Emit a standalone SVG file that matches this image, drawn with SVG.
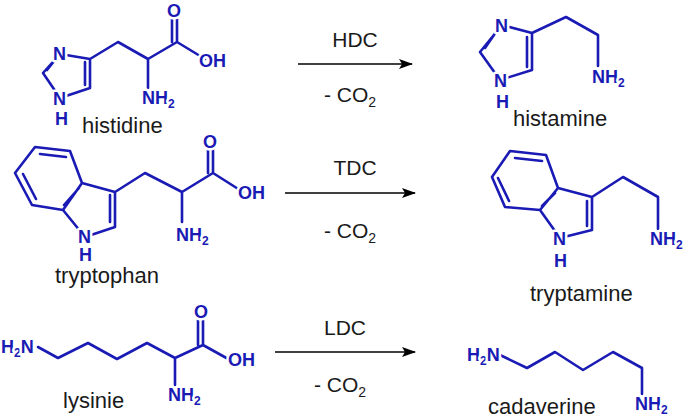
<svg xmlns="http://www.w3.org/2000/svg" width="688" height="418" viewBox="0 0 688 418">
<defs>
<style>
.b{fill:none;stroke:#1a1ab4;stroke-width:2.6;stroke-linejoin:round;stroke-linecap:round}
.a{font-family:"Liberation Sans",Arial,sans-serif;font-weight:bold;font-size:18px;fill:#1a1ab4;stroke:#fff;stroke-width:5px;paint-order:stroke;stroke-linejoin:round}
.n{font-family:"Liberation Sans",Arial,sans-serif;font-size:22px;fill:#1a1a1a}
.r{font-family:"Liberation Sans",Arial,sans-serif;font-size:21px;fill:#1a1a1a}
.s{font-size:12px}
.ar{stroke:#000;stroke-width:1.5;fill:none}
</style>
<marker id="h" viewBox="0 0 14 10" refX="13" refY="5" markerWidth="14" markerHeight="10" markerUnits="userSpaceOnUse" orient="auto"><path d="M0,0 L14,5 L0,10 L3,5 Z" fill="#000"/></marker>
</defs>
<rect width="688" height="418" fill="#fff"/>
<g id="histidine">
<path class="b" d="M60,54 L90,59 L90,88 L60,98 M85,62 L85,85 M60,54 L43,73 L60,98 M55,60 L47,70 M90,59 L118,42 L148,59 L177,42 L205,59 M148,59 L148,88 M177,42 L177,18 M172,42 L172,18"/>
<text class="a" x="53" y="60">N</text><text class="a" x="53" y="105">N</text><text class="a" x="55" y="125">H</text>
<text class="a" x="167" y="17">O</text><text class="a" x="199" y="67">OH</text>
<text class="a" x="142" y="104">NH<tspan class="s" dy="4">2</tspan></text>
<text class="n" x="82" y="133">histidine</text>
</g>
<g id="tryptophan">
<path class="b" d="M35,147 L70,151 L82,183 L63,210 L32,205 L15,173 Z M40,154 L66,157 M36,199 L23,174 M79,188 L64,205 M82,183 L115,192 L115,227 L85,237 M110,195 L110,222 M63,210 L85,237 M115,192 L145,173 L182,192 L213,173 L243,192 M182,192 L182,222 M213,173 L213,149 M208,173 L208,149"/>
<text class="a" x="78" y="243">N</text><text class="a" x="79" y="261">H</text>
<text class="n" x="55" y="283">tryptophan</text>
<text class="a" x="203" y="148">O</text><text class="a" x="238" y="199">OH</text>
<text class="a" x="176" y="241">NH<tspan class="s" dy="4">2</tspan></text>
</g>
<g id="lysine">
<path class="b" d="M38,347 L58,358 L88,343 L117,359 L147,343 L175,358 L203,345 L230,360 M175,358 L175,385 M203,345 L203,320 M198,345 L198,320"/>
<text class="a" x="1" y="353">H<tspan class="s" dy="4">2</tspan><tspan dy="-4">N</tspan></text>
<text class="a" x="194" y="318">O</text><text class="a" x="228" y="366">OH</text>
<text class="a" x="168" y="401">NH<tspan class="s" dy="4">2</tspan></text>
<text class="n" x="63" y="408">lysinie</text>
</g>
<g id="histamine">
<path class="b" d="M502,25 L532,33 L532,70 L500,80 M527,37 L527,67 M502,25 L480,52 L500,80 M496,32 L485,48 M532,33 L566,17 L598,35 L598,66"/>
<text class="a" x="495" y="32">N</text><text class="a" x="494" y="87">N</text><text class="a" x="496" y="108">H</text>
<text class="a" x="592" y="83">NH<tspan class="s" dy="4">2</tspan></text>
<text class="n" x="513" y="126">histamine</text>
</g>
<g id="tryptamine">
<path class="b" d="M510,151 L546,155 L558,188 L540,210 L505,207 L492,177 Z M515,158 L542,161 M509,201 L498,178 M555,193 L542,206 M558,188 L592,197 L592,230 L560,238 M587,201 L587,226 M540,210 L560,238 M592,197 L623,177 L658,197 L658,229"/>
<text class="a" x="553" y="245">N</text><text class="a" x="554" y="267">H</text>
<text class="a" x="650" y="245">NH<tspan class="s" dy="4">2</tspan></text>
<text class="n" x="530" y="301">tryptamine</text>
</g>
<g id="cadaverine">
<path class="b" d="M500,355 L527,368 L555,352 L583,370 L613,352 L642,368 L642,394"/>
<text class="a" x="467" y="361">H<tspan class="s" dy="4">2</tspan><tspan dy="-4">N</tspan></text>
<text class="a" x="635" y="410">NH<tspan class="s" dy="4">2</tspan></text>
<text class="n" x="488" y="414">cadaverine</text>
</g>
<g id="connectors">
<line class="ar" x1="298" y1="64" x2="412" y2="64" marker-end="url(#h)"/>
<line class="ar" x1="285" y1="193" x2="415" y2="193" marker-end="url(#h)"/>
<line class="ar" x1="275" y1="352" x2="415" y2="352" marker-end="url(#h)"/>
<text class="r" x="355" y="47" text-anchor="middle">HDC</text>
<text class="r" x="324" y="102">- CO<tspan font-size="14" dy="5">2</tspan></text>
<text class="r" x="355" y="175" text-anchor="middle">TDC</text>
<text class="r" x="324" y="238">- CO<tspan font-size="14" dy="5">2</tspan></text>
<text class="r" x="345" y="335" text-anchor="middle">LDC</text>
<text class="r" x="314" y="392">- CO<tspan font-size="14" dy="5">2</tspan></text>
</g>
</svg>
